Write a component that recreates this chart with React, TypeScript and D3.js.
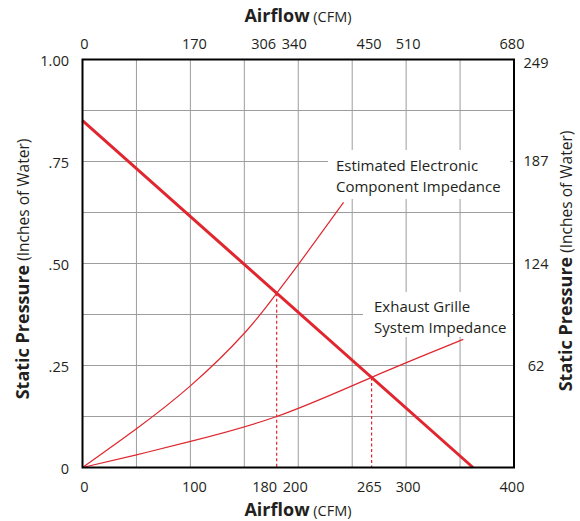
import React from 'react';
import * as d3 from 'd3';

// Tick values
const bottomTicks = [0, 100, 180, 200, 265, 300, 400];
const topTicks = [0, 170, 306, 340, 450, 510, 680];
const leftTicks = [0, 0.25, 0.5, 0.75, 1];
const leftLabels = ['0', '.25', '.50', '.75', '1.00'];
const rightTicks = [62, 124, 187, 249];
const gridQ = [50, 100, 150, 200, 250, 300, 350];
const gridP = [0.125, 0.25, 0.375, 0.5, 0.625, 0.75, 0.875];

// Series
const fanQ = [0, 362];
const fanP = [0.85, 0];
const elecQ = [0, 50, 100, 150, 180, 200, 242];
const elecP = [0, 0.095, 0.2, 0.329, 0.427, 0.497, 0.65];
const grilleQ = [0, 50, 100, 180, 268, 353];
const grilleP = [0, 0.031, 0.064, 0.125, 0.221, 0.314];
const opQ = [180, 268];

const RED = '#e0262e';
const INK = '#231f20';
const FONT = '"Open Sans", "Noto Sans", sans-serif';

export default function App() {
  const W = 580, H = 521;
  const L = 82.5, R = 514, T = 59.5, B = 467.5;
  const x = d3.scaleLinear().domain([0, 400]).range([L, R]);
  const xTop = d3.scaleLinear().domain([0, 680]).range([L, R]);
  const y = d3.scaleLinear().domain([0, 1]).range([B, T]);
  const yR = d3.scaleLinear().domain([0, 249]).range([B, T]);

  const fanAt = d3.scaleLinear().domain(fanQ).range(fanP);

  const line = d3.line<[number, number]>()
    .x(d => x(d[0]))
    .y(d => y(d[1]))
    .curve(d3.curveNatural);

  const fanPath = d3.line<[number, number]>().x(d => x(d[0])).y(d => y(d[1]))(fanQ.map((q, i) => [q, fanP[i]]))!;
  const elecPath = line(elecQ.map((q, i) => [q, elecP[i]]))!;
  const grillePath = line(grilleQ.map((q, i) => [q, grilleP[i]]))!;

  const bottomNudge: Record<number, number> = { 0: 2, 100: 4, 180: -12, 200: -3, 265: 1, 300: 2, 400: -2 };
  const topNudge: Record<number, number> = { 0: 2, 170: 4, 306: -13, 340: -4, 450: 1, 510: 2, 680: -2 };

  return (
    <svg width={W} height={H} style={{ position: 'absolute', left: 0, top: 0, background: '#fff' }}
      fontFamily={FONT}>
      <rect x={0} y={0} width={W} height={H} fill="#fff" />
      {/* grid */}
      <g stroke="#9d9d9d" strokeWidth={1}>
        {gridQ.map(q => (
          <line key={'gx' + q} x1={x(q)} x2={x(q)} y1={T} y2={B} />
        ))}
        {gridP.map(p => (
          <line key={'gy' + p} x1={L} x2={R} y1={y(p)} y2={y(p)} />
        ))}
      </g>
      {/* label backgrounds */}
      <rect x={328} y={150} width={182} height={49} fill="#fff" />
      <rect x={363} y={292} width={149} height={45} fill="#fff" />

      {/* operating point drops */}
      <g stroke={RED} strokeWidth={1.2} strokeDasharray="3,2.5">
        {opQ.map(q => (
          <line key={'op' + q} x1={x(q)} x2={x(q)} y1={y(fanAt(q))} y2={B} />
        ))}
      </g>

      {/* curves */}
      <path d={elecPath} fill="none" stroke={RED} strokeWidth={1.2} />
      <path d={grillePath} fill="none" stroke={RED} strokeWidth={1.2} />
      <path d={fanPath} fill="none" stroke={RED} strokeWidth={3} />

      {/* frame */}
      <rect x={L} y={T} width={R - L} height={B - T} fill="none" stroke="#000" strokeWidth={2} />

      {/* annotations */}
      <g fontSize={15} fill={INK}>
        <text x={336} y={171}>Estimated Electronic</text>
        <text x={336} y={192}>Component Impedance</text>
        <text x={374} y={312}>Exhaust Grille</text>
        <text x={374} y={333}>System Impedance</text>
      </g>

      {/* axis labels */}
      <g fontSize={14.5} fill={INK} textAnchor="middle">
        {bottomTicks.map(t => (
          <text key={'b' + t} x={x(t) + (bottomNudge[t] || 0)} y={492}>{t}</text>
        ))}
        {topTicks.map(t => (
          <text key={'t' + t} x={xTop(t) + (topNudge[t] || 0)} y={49}>{t}</text>
        ))}
        {rightTicks.map(t => (
          <text key={'r' + t} x={536} y={yR(t) + (t === 249 ? 3 : 0)} dy="0.35em">{t}</text>
        ))}
      </g>
      <g fontSize={14.5} fill={INK} textAnchor="end">
        {leftTicks.map((t, i) => (
          <text key={'l' + t} x={69} y={y(t) + 1} dy="0.35em">{leftLabels[i]}</text>
        ))}
      </g>

      {/* axis titles */}
      <g fill={INK} textAnchor="middle">
        <text x={298} y={22}>
          <tspan fontWeight="bold" fontSize={18}>Airflow</tspan>
          <tspan fontSize={14.5}> (CFM)</tspan>
        </text>
        <text x={298} y={516}>
          <tspan fontWeight="bold" fontSize={18}>Airflow</tspan>
          <tspan fontSize={14.5}> (CFM)</tspan>
        </text>
        <text transform={`translate(29,269) rotate(-90)`}>
          <tspan fontWeight="bold" fontSize={18}>Static Pressure</tspan>
          <tspan fontSize={15.5}> (Inches of Water)</tspan>
        </text>
        <text transform={`translate(572,261) rotate(-90)`}>
          <tspan fontWeight="bold" fontSize={18}>Static Pressure</tspan>
          <tspan fontSize={15.5}> (Inches of Water)</tspan>
        </text>
      </g>
    </svg>
  );
}
